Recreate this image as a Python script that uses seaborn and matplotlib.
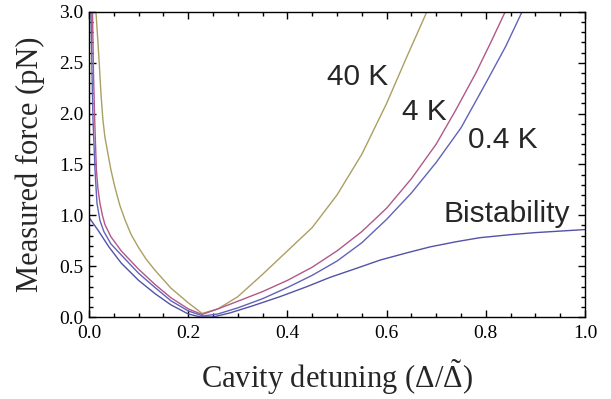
import numpy as np
import pandas as pd
import matplotlib
matplotlib.use('Agg')
import matplotlib.pyplot as plt
import seaborn as sns
from matplotlib.ticker import MultipleLocator, FormatStrFormatter

# Curves: detuning (Delta / Delta~) and measured force (pN).
x_40k = [0.014, 0.018, 0.021, 0.024, 0.028, 0.032, 0.038, 0.044, 0.052, 0.062, 0.073, 0.085, 0.099,
         0.115, 0.133, 0.165, 0.200, 0.228,
         0.260, 0.300, 0.350, 0.400, 0.450, 0.500, 0.550, 0.600, 0.640, 0.681]
f_40k = [3.00, 2.70, 2.46, 2.20, 1.94, 1.77, 1.61, 1.45, 1.28, 1.10, 0.95, 0.81, 0.69,
         0.57, 0.46, 0.285, 0.14, 0.035,
         0.08, 0.20, 0.42, 0.65, 0.88, 1.20, 1.60, 2.10, 2.55, 3.00]

x_4k = [0.007, 0.009, 0.0114, 0.0148, 0.018, 0.022, 0.027, 0.032, 0.044, 0.065, 0.100, 0.133, 0.165,
        0.200, 0.228,
        0.260, 0.300, 0.350, 0.400, 0.450, 0.500, 0.550, 0.600, 0.650, 0.700, 0.740, 0.780, 0.810, 0.839]
f_4k = [3.00, 2.40, 1.94, 1.45, 1.26, 1.12, 1.00, 0.91, 0.79, 0.65, 0.47, 0.32, 0.19,
        0.08, 0.025,
        0.08, 0.155, 0.25, 0.36, 0.49, 0.65, 0.84, 1.07, 1.36, 1.70, 2.04, 2.40, 2.70, 3.00]

x_04k = [0.004, 0.006, 0.008, 0.012, 0.016, 0.022, 0.030, 0.044, 0.065, 0.100, 0.133, 0.165, 0.200,
         0.230,
         0.260, 0.300, 0.350, 0.400, 0.450, 0.500, 0.550, 0.600, 0.650, 0.700, 0.750, 0.800, 0.840, 0.873]
f_04k = [3.00, 2.40, 1.94, 1.45, 1.12, 0.95, 0.84, 0.72, 0.61, 0.43, 0.29, 0.16, 0.06,
         0.01,
         0.03, 0.09, 0.18, 0.29, 0.41, 0.55, 0.73, 0.96, 1.22, 1.52, 1.86, 2.30, 2.66, 3.00]

x_bist = [0.0, 0.020, 0.040, 0.065, 0.100, 0.133, 0.165, 0.200, 0.225, 0.250, 0.284, 0.330, 0.385,
          0.440, 0.486, 0.540, 0.587, 0.640, 0.688, 0.740, 0.788, 0.850, 0.900, 0.950, 1.0]
f_bist = [0.98, 0.84, 0.69, 0.53, 0.36, 0.23, 0.12, 0.03, 0.0, 0.0, 0.04, 0.11, 0.20,
          0.30, 0.39, 0.48, 0.56, 0.63, 0.69, 0.74, 0.78, 0.81, 0.83, 0.845, 0.86]

labels = ['40 K', '4 K', '0.4 K', 'Bistability']
label_x = [0.480, 0.631, 0.764, 0.714]
label_y = [2.28, 1.937, 1.662, 0.934]

sns.set_style('ticks')
plt.rcParams['font.family'] = ['Liberation Serif', 'DejaVu Serif']
plt.rcParams['mathtext.fontset'] = 'custom'
plt.rcParams['mathtext.rm'] = 'Liberation Serif'
plt.rcParams['mathtext.it'] = 'Liberation Serif:italic'

fig = plt.figure(figsize=(6.11, 3.99), dpi=100)
ax = fig.add_axes([0.1457, 0.2055, 0.8117, 0.7645])

curves = [(x_40k, f_40k, '#ab9f62'), (x_4k, f_4k, '#b0588a'),
          (x_04k, f_04k, '#6262b8'), (x_bist, f_bist, '#5252a8')]
for xs, fs, c in curves:
    df = pd.DataFrame({'x': xs, 'f': fs})
    sns.lineplot(data=df, x='x', y='f', ax=ax, color=c, linewidth=1.0,
                 sort=False, estimator=None)

for t, tx, ty in zip(labels, label_x, label_y):
    ax.text(tx, ty, t, fontsize=21.5, family=['Liberation Sans', 'DejaVu Sans'],
            ha='left', va='baseline')

ax.set_xlim(0, 1)
ax.set_ylim(0, 3)
ax.xaxis.set_major_locator(MultipleLocator(0.2))
ax.xaxis.set_minor_locator(MultipleLocator(0.05))
ax.yaxis.set_major_locator(MultipleLocator(0.5))
ax.yaxis.set_minor_locator(MultipleLocator(0.1))
ax.tick_params(which='both', direction='in', top=True, right=True, width=1.0,
               labelsize=14, colors='black')
ax.tick_params(which='major', length=5)
ax.tick_params(which='minor', length=2.8)
ax.tick_params(axis='x', pad=6)
ax.tick_params(axis='y', pad=4)
ax.xaxis.set_major_formatter(FormatStrFormatter('%.1f'))
ax.yaxis.set_major_formatter(FormatStrFormatter('%.1f'))
for s in ax.spines.values():
    s.set_linewidth(1.0)
    s.set_color('black')

ax.set_xlabel(r'Cavity detuning ($\Delta/\tilde{\Delta}$)', fontsize=22, labelpad=11)
ax.set_ylabel('Measured force (pN)', fontsize=22, labelpad=10)

fig.savefig('out.png', dpi=100)
